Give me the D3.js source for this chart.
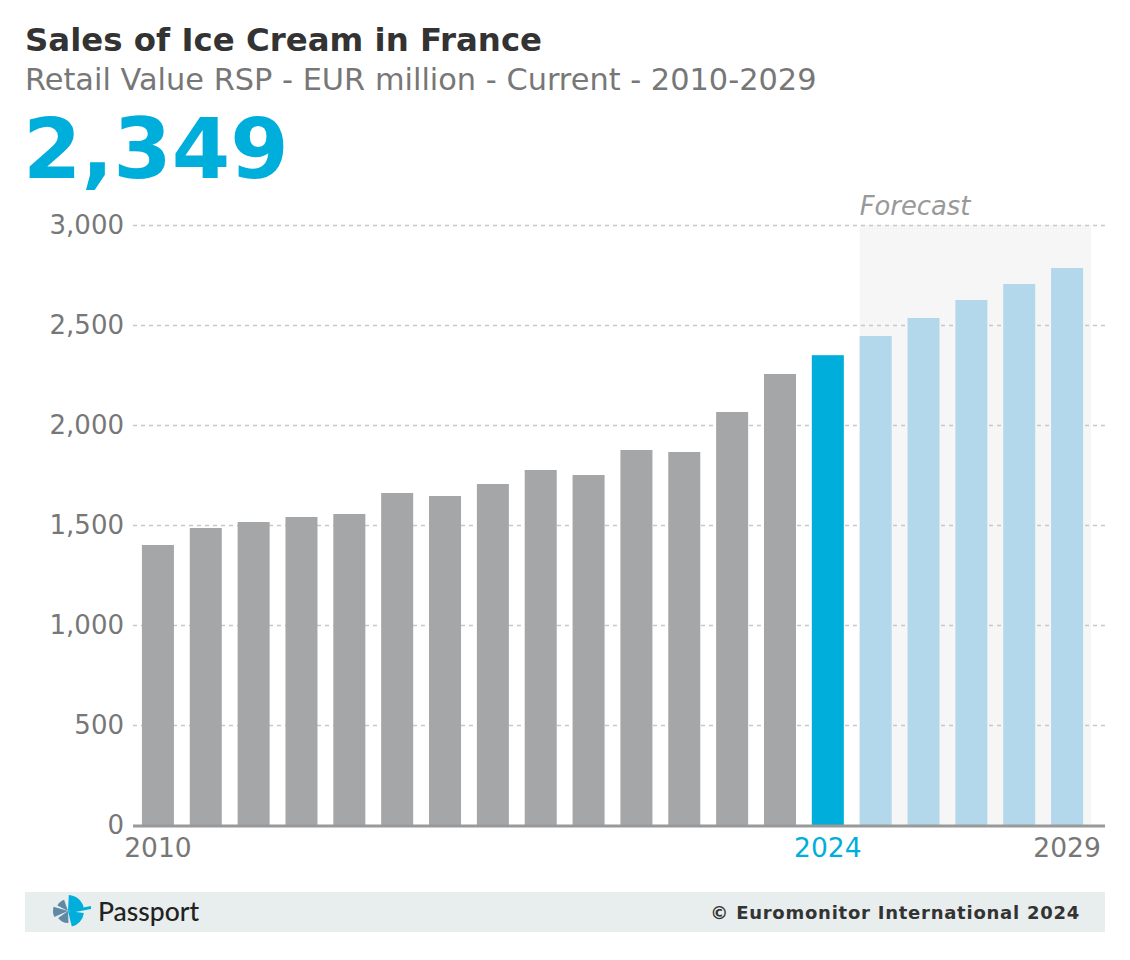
<!DOCTYPE html>
<html><head><meta charset="utf-8">
<script src="https://cdn.jsdelivr.net/npm/d3@7"></script>
<style>body{margin:0;background:#fff;}svg{display:block;font-family:"DejaVu Sans",sans-serif;}</style>
</head><body>
<svg id="c" width="1130" height="960"></svg>
<script>
const years = ["2010","2011","2012","2013","2014","2015","2016","2017","2018","2019","2020","2021","2022","2023","2024","2025","2026","2027","2028","2029"];
const values = [1400,1485,1515,1540,1555,1660,1645,1705,1775,1750,1875,1865,2065,2255,2349,2445,2535,2625,2705,2785];
const yTicks = [0,500,1000,1500,2000,2500,3000];
const xLabels = ["2010","2024","2029"];
const currentYear = "2024";
const forecastStart = "2025";

const svg = d3.select("#c");
svg.append("rect").attr("width",1130).attr("height",960).attr("fill","#fff");

const x = d3.scaleBand().domain(years).range([134,1091]).paddingInner(0.331).paddingOuter(0.1655);
const y = d3.scaleLinear().domain([0,3000]).range([825,225]);

// titles
svg.append("text").attr("x",25).attr("y",51).attr("font-size",32.4).attr("font-weight","bold").attr("fill","#333").text("Sales of Ice Cream in France");
svg.append("text").attr("x",25).attr("y",90).attr("font-size",30.4).attr("fill","#777").text("Retail Value RSP - EUR million - Current - 2010-2029");
svg.append("text").attr("x",23).attr("y",178).attr("font-size",84).attr("font-weight","bold").attr("fill","#00aedb").text(d3.format(",")(values[years.indexOf(currentYear)]));

// forecast band
const fx = x(forecastStart);
svg.append("rect").attr("x",fx).attr("y",y(3000)).attr("width",x.range()[1]-fx).attr("height",y(0)-y(3000)).attr("fill","#f6f6f6");
svg.append("text").attr("x",fx).attr("y",215).attr("font-size",25.8).attr("font-style","italic").attr("fill","#999").text("Forecast");

// grid
svg.append("g").selectAll("line").data(yTicks.filter(d=>d>0)).join("line")
  .attr("x1",133).attr("x2",1105).attr("y1",d=>y(d)+0.5).attr("y2",d=>y(d)+0.5)
  .attr("stroke","#c8c8c8").attr("stroke-width",1.5).attr("stroke-dasharray","4,4");

// y labels
svg.append("g").selectAll("text").data(yTicks).join("text")
  .attr("x",124).attr("y",d=>y(d)+9).attr("text-anchor","end").attr("font-size",26).attr("fill","#777")
  .text(d=>d3.format(",")(d));

// bars
svg.append("g").selectAll("rect").data(years).join("rect")
  .attr("x",d=>x(d)).attr("width",x.bandwidth())
  .attr("y",(d,i)=>y(values[i])).attr("height",(d,i)=>y(0)-y(values[i]))
  .attr("fill",d=> d===currentYear ? "#00aedb" : (+d>+currentYear ? "#b3d8eb" : "#a5a6a8"));

// axis line
svg.append("line").attr("x1",133).attr("x2",1105).attr("y1",826).attr("y2",826).attr("stroke","#999").attr("stroke-width",3);

// x labels
svg.append("g").selectAll("text").data(xLabels).join("text")
  .attr("x",d=>x(d)+x.bandwidth()/2).attr("y",857).attr("text-anchor","middle").attr("font-size",26.5)
  .attr("fill",d=>d===currentYear?"#00aedb":"#777").text(d=>d);

// footer
svg.append("rect").attr("x",25).attr("y",892).attr("width",1080).attr("height",40).attr("fill","#e8eeee");
svg.append("text").attr("x",1080).attr("y",919).attr("text-anchor","end").attr("font-size",18).attr("font-weight","bold").attr("fill","#333").attr("letter-spacing",0.75).text("© Euromonitor International 2024");
svg.append("text").attr("x",98).attr("y",921).attr("font-size",26.5).attr("fill","#222").attr("font-family","Lato, 'Open Sans', sans-serif").attr("font-weight","500").text("Passport");

// logo
const lg = svg.append("g").attr("transform","translate(68,911)");
const arc = d3.arc();
const pieces = [
  {s:0.05,e:1.45,r:16,c:"#00aedb"},
  {s:1.7,e:2.9,r:16,c:"#00aedb"},
  {s:3.1,e:4.1,r:12,c:"#5f8aa6"},
  {s:4.3,e:5.0,r:15,c:"#5f8aa6"},
  {s:5.2,e:5.95,r:12,c:"#5f8aa6"}
];
lg.selectAll("path").data(pieces).join("path")
  .attr("d",d=>arc({innerRadius:0,outerRadius:d.r,startAngle:d.s,endAngle:d.e})).attr("fill",d=>d.c);
lg.append("path").attr("d","M2,-1 L23,-5 L23,-2 L2,2 Z").attr("fill","#00aedb");
</script>
</body></html>
